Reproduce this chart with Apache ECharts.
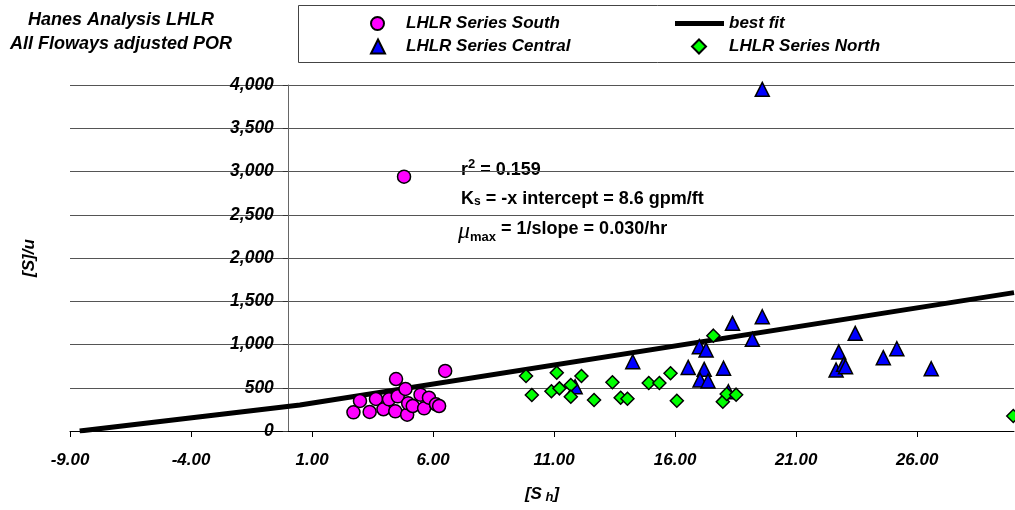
<!DOCTYPE html>
<html>
<head>
<meta charset="utf-8">
<script src="https://cdn.jsdelivr.net/npm/echarts@6/dist/echarts.min.js"></script>
<style>html,body{margin:0;padding:0;background:#fff}#c{width:1015px;height:510px}</style>
</head>
<body>
<div id="c"></div>
<script>
// ---- data ----
const southData = [[2.71,216],[2.98,347],[3.38,220],[3.64,370],[3.95,251],[4.18,366],[4.44,227],[4.47,601],[4.54,401],[4.80,2940],[4.86,486],[4.93,189],[4.97,320],[5.16,289],[5.48,420],[5.63,262],[5.83,385],[6.12,309],[6.25,289],[6.50,694]];
const centralData = [[11.87,512],[14.25,801],[16.54,735],[17.00,975],[17.28,936],[17.20,713],[17.03,590],[17.36,578],[18.00,725],[18.20,454],[18.37,1245],[19.19,1060],[19.60,1321],[19.60,3950],[22.65,705],[22.76,913],[22.96,771],[23.04,743],[23.44,1129],[24.60,848],[25.16,951],[26.58,720]];
const northData = [[9.84,636],[10.08,416],[10.89,459],[11.11,674],[11.22,493],[11.69,532],[11.69,397],[12.13,636],[12.65,358],[13.41,563],[13.75,385],[14.03,373],[14.91,555],[15.35,555],[15.81,667],[16.07,350],[17.58,1102],[17.97,339],[18.13,428],[18.52,420],[29.97,173]];
const fitX = [-8.6, 0.5, 30];
const fitY = [0, 300, 1600];
const xTicks = [-9, -4, 1, 6, 11, 16, 21, 26];
const yTicks = [0, 500, 1000, 1500, 2000, 2500, 3000, 3500, 4000];

const FF = '"Liberation Sans", Arial, sans-serif';
const chart = echarts.init(document.getElementById('c'), null, {renderer: 'canvas'});
const fitData = fitX.map((x, i) => [x, fitY[i]]);
const legText = (padL) => ({fontFamily: FF, fontSize: 17, fontWeight: 'bold', fontStyle: 'italic', color: '#000', padding: [0, 0, 0, padL]});

const GRID_L = 70, GRID_R = 1, X_MIN = -9, X_MAX = 30;
const plotW = 1015 - GRID_L - GRID_R;
const yAxisOffset = -plotW * (0 - X_MIN) / (X_MAX - X_MIN);

chart.setOption({
  backgroundColor: '#fff',
  animation: false,
  title: {
    text: 'Hanes Analysis LHLR\nAll Floways adjusted POR',
    left: 116, top: 3, textAlign: 'center',
    textStyle: {fontFamily: FF, fontSize: 18, fontWeight: 'bold', fontStyle: 'italic', color: '#000', lineHeight: 24}
  },
  legend: [
    {data: ['LHLR Series South'], left: 365, top: 10, itemWidth: 13, itemHeight: 13, textStyle: legText(17), selectedMode: false},
    {data: ['LHLR Series Central'], left: 365, top: 33, itemWidth: 14, itemHeight: 14, textStyle: legText(16), selectedMode: false},
    {data: [{name: 'best fit', icon: 'rect'}], left: 670, top: 10, itemWidth: 49, itemHeight: 5, textStyle: legText(0), selectedMode: false},
    {data: ['LHLR Series North'], left: 686, top: 33, itemWidth: 14, itemHeight: 14, textStyle: legText(18), selectedMode: false}
  ],
  grid: {left: GRID_L, right: GRID_R, top: 85, bottom: 79, containLabel: false, outerBoundsMode: 'none'},
  xAxis: {
    type: 'value', min: X_MIN, max: X_MAX,
    name: '{a|[S}{s| h}{a|]}', nameLocation: 'middle', nameGap: 54,
    nameTextStyle: {rich: {
      a: {fontFamily: FF, fontSize: 17, fontWeight: 'bold', fontStyle: 'italic', color: '#000'},
      s: {fontFamily: FF, fontSize: 13, fontWeight: 'bold', fontStyle: 'italic', color: '#000', verticalAlign: 'bottom', padding: [6, 0, 0, 0]}
    }},
    axisLine: {onZero: false, lineStyle: {color: '#000', width: 1}},
    axisTick: {show: true, length: 6, customValues: xTicks, lineStyle: {color: '#000'}},
    axisLabel: {customValues: xTicks, margin: 21, formatter: v => v.toFixed(2),
      fontFamily: FF, fontSize: 17, fontWeight: 'bold', fontStyle: 'italic', color: '#000'},
    splitLine: {show: false}
  },
  yAxis: {
    type: 'value', min: 0, max: 4000, interval: 500, offset: yAxisOffset,
    name: '[S]/u', nameLocation: 'middle', nameGap: 250, nameRotate: 90,
    nameTextStyle: {fontFamily: FF, fontSize: 17, fontWeight: 'bold', fontStyle: 'italic', color: '#000'},
    axisLine: {show: true, onZero: false, lineStyle: {color: '#666', width: 1}},
    axisTick: {show: true, length: 5, lineStyle: {color: '#333'}},
    axisLabel: {margin: 14, formatter: v => v.toLocaleString('en-US'),
      fontFamily: FF, fontSize: 17.5, fontWeight: 'bold', fontStyle: 'italic', color: '#000'},
    splitLine: {show: true, lineStyle: {color: '#555', width: 1}}
  },
  graphic: [
    {type: 'rect', shape: {x: 298.5, y: 5.5, width: 760, height: 57}, style: {fill: 'none', stroke: '#444', lineWidth: 1}, z: 0},
    {type: 'text', left: 461, top: 158, style: {
      text: '{a|r}{s|2}{a| = 0.159}',
      rich: {a: {fontFamily: FF, fontSize: 18, fontWeight: 'bold', fill: '#000', verticalAlign: 'bottom'},
             s: {fontFamily: FF, fontSize: 13, fontWeight: 'bold', fill: '#000', verticalAlign: 'bottom', padding: [0, 0, 8, 0]}}
    }},
    {type: 'text', left: 461, top: 190, style: {
      text: '{a|K}{s|s}{a| = -x intercept = 8.6 gpm/ft}',
      rich: {a: {fontFamily: FF, fontSize: 18, fontWeight: 'bold', fill: '#000', verticalAlign: 'top'},
             s: {fontFamily: FF, fontSize: 12, fontWeight: 'bold', fill: '#000', verticalAlign: 'bottom'}}
    }},
    {type: 'text', left: 458, top: 220, style: {
      text: '{m|μ}{s|max}{a| = 1/slope = 0.030/hr}',
      rich: {m: {fontFamily: '"Liberation Serif", serif', fontSize: 24, fontStyle: 'italic', fill: '#000', verticalAlign: 'top'},
             a: {fontFamily: FF, fontSize: 18, fontWeight: 'bold', fill: '#000', verticalAlign: 'top'},
             s: {fontFamily: FF, fontSize: 13, fontWeight: 'bold', fill: '#000', verticalAlign: 'bottom'}}
    }}
  ],
  series: [
    {name: 'best fit', type: 'line', data: fitData, symbol: 'none', showSymbol: false,
     lineStyle: {color: '#000', width: 5}, itemStyle: {color: '#000'}, z: 2},
    {name: 'LHLR Series South', type: 'scatter', data: southData, symbol: 'circle', symbolSize: 13,
     itemStyle: {color: '#FF00FF', borderColor: '#000', borderWidth: 1.5, opacity: 1}, z: 3},
    {name: 'LHLR Series Central', type: 'scatter', data: centralData, symbol: 'triangle', symbolSize: 14,
     itemStyle: {color: '#0000FF', borderColor: '#000', borderWidth: 1.5, opacity: 1}, z: 3},
    {name: 'LHLR Series North', type: 'scatter', data: northData, symbol: 'diamond', symbolSize: 13,
     itemStyle: {color: '#00FF00', borderColor: '#000', borderWidth: 1.5, opacity: 1}, z: 3}
  ]
});
</script>
</body>
</html>
